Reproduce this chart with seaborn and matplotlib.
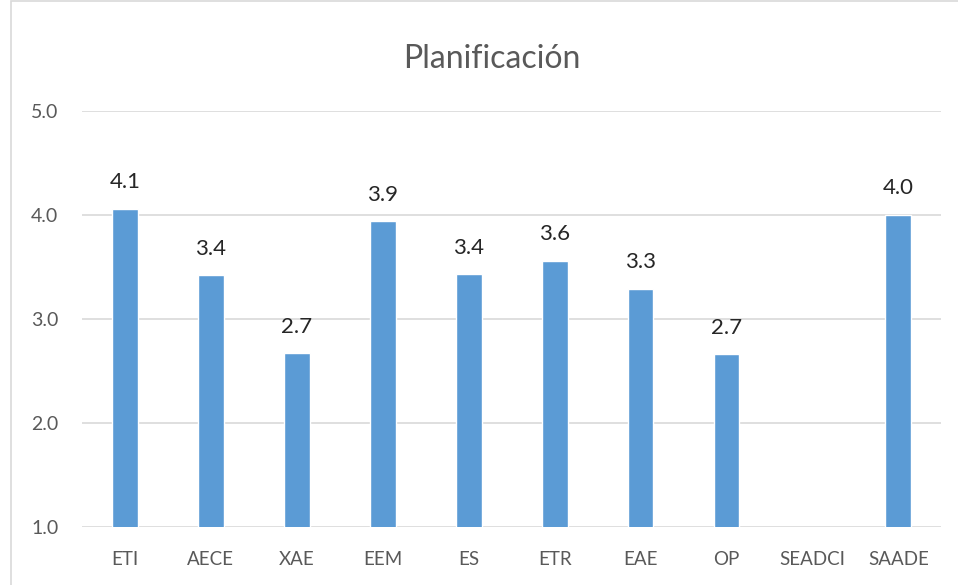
import numpy as np
import pandas as pd
import matplotlib
matplotlib.use("Agg")
import matplotlib.pyplot as plt
import seaborn as sns
from matplotlib.patches import Rectangle

# ===== Data =====
categories = ['ETI', 'AECE', 'XAE', 'EEM', 'ES', 'ETR', 'EAE', 'OP', 'SEADCI', 'SAADE']
scores = [4.06, 3.42, 2.67, 3.94, 3.43, 3.56, 3.29, 2.66, np.nan, 4.0]
y_ticks = [1.0, 2.0, 3.0, 4.0, 5.0]

df = pd.DataFrame({'Unidad': categories, 'Puntaje': scores})

sns.set_style("white")
plt.rcParams['font.family'] = ['Lato', 'DejaVu Sans']

fig = plt.figure(figsize=(9.58, 5.85), dpi=100)
ax = fig.add_axes([0.0856, 0.099, 0.897, 0.711])

sns.barplot(data=df, x='Unidad', y='Puntaje', order=categories, color='#5B9BD5',
            saturation=1, width=0.3, ax=ax, zorder=3)

ax.set_ylim(1, 5)
ax.set_yticks(y_ticks)
ax.set_yticklabels([f"{t:.1f}" for t in y_ticks], color='#595959', fontsize=14)
ax.tick_params(axis='x', colors='#595959', labelsize=13.5, length=0, pad=17)
ax.tick_params(axis='y', length=0, pad=17)
ax.set_xlabel('')
ax.set_ylabel('')
ax.yaxis.grid(True, color='#D9D9D9', linewidth=1.2, zorder=0)
for s in ax.spines.values():
    s.set_visible(False)

# value labels above bars (skip the missing one)
for bar in ax.patches:
    h = bar.get_height()
    if np.isnan(h):
        continue
    ax.annotate(f"{h:.1f}", (bar.get_x() + bar.get_width() / 2, h),
                xytext=(0, 12), textcoords='offset points',
                ha='center', va='bottom', fontsize=16, color='#262626')

fig.text(0.513, 0.9, 'Planificación', ha='center', va='center', fontsize=23, color='#595959')

# outer chart border
fig.patches.append(Rectangle((0.011, -0.01), 1.0, 1.008, transform=fig.transFigure,
                             fill=False, edgecolor='#D9D9D9', linewidth=1.2))

fig.savefig('out.png', dpi=100)
